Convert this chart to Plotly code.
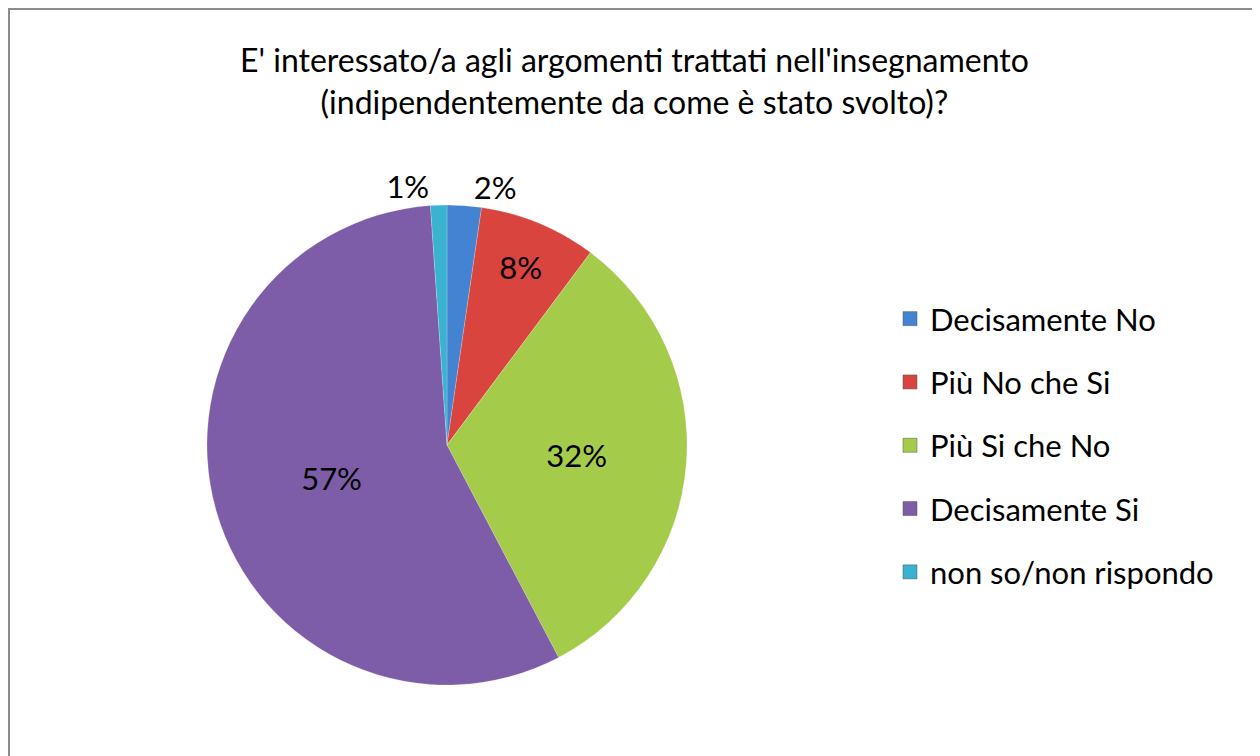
import plotly.graph_objects as go

# Survey answers (share of respondents, %)
labels = ["Decisamente No", "Più No che Si", "Più Si che No", "Decisamente Si", "non so/non rispondo"]
values = [2.3, 7.9, 32.1, 56.6, 1.1]
colors = ["#4383D2", "#D9443F", "#A5CB4A", "#7E5DA8", "#3AB3D0"]
text_pos = ["outside", "inside", "inside", "inside", "outside"]

TITLE = "E' interessato/a agli argomenti trattati nell'insegnamento<br>(indipendentemente da come è stato svolto)?"
FONT = "Lato, Carlito, Calibri, sans-serif"

# the page body has an 8px margin, so the figure is a bit smaller than the window
OFF = 8
W, H = 1260 - OFF, 756 - OFF


def px_x(x):
    return (x - OFF) / W


def px_y(y):
    return 1 - (y - OFF) / H


fig = go.Figure()

fig.add_trace(go.Pie(
    labels=labels, values=values, sort=False, direction="clockwise", rotation=0,
    marker=dict(colors=colors, line=dict(color="rgba(255,255,255,0.4)", width=0.5)),
    texttemplate="%{percent:.0%}", textposition=text_pos,
    insidetextorientation="horizontal",
    textfont=dict(size=31, color="black", family=FONT),
    domain=dict(x=[px_x(207), px_x(687)], y=[px_y(686), px_y(204)]),
    showlegend=False, hoverinfo="label+percent",
))

# legend entries (separate groups so the spacing matches the original)
for i, (lab, col) in enumerate(zip(labels, colors)):
    fig.add_trace(go.Scatter(
        x=[None], y=[None], mode="markers", name=lab, legendgroup=f"g{i}",
        marker=dict(symbol="square", size=14, color=col, line=dict(color="#555", width=0.5)),
    ))

fig.add_annotation(text=TITLE, x=0.5, y=px_y(38), xref="paper", yref="paper",
                   xanchor="center", yanchor="top", showarrow=False,
                   font=dict(size=32, color="black", family=FONT))

# chart frame
fig.add_shape(type="rect", xref="paper", yref="paper",
              x0=px_x(9), x1=px_x(1258), y0=-0.05, y1=px_y(9),
              line=dict(color="#8C8C8C", width=2))

fig.update_layout(
    width=W, height=H,
    margin=dict(l=0, r=0, t=0, b=0),
    paper_bgcolor="white", plot_bgcolor="white",
    xaxis=dict(visible=False), yaxis=dict(visible=False),
    font=dict(family=FONT, color="black"),
    legend=dict(x=px_x(890), y=px_y(292), xanchor="left", yanchor="top",
                font=dict(size=31, color="black", family=FONT),
                tracegroupgap=20, itemwidth=30, bgcolor="rgba(0,0,0,0)"),
)

fig.write_html("out.html")
